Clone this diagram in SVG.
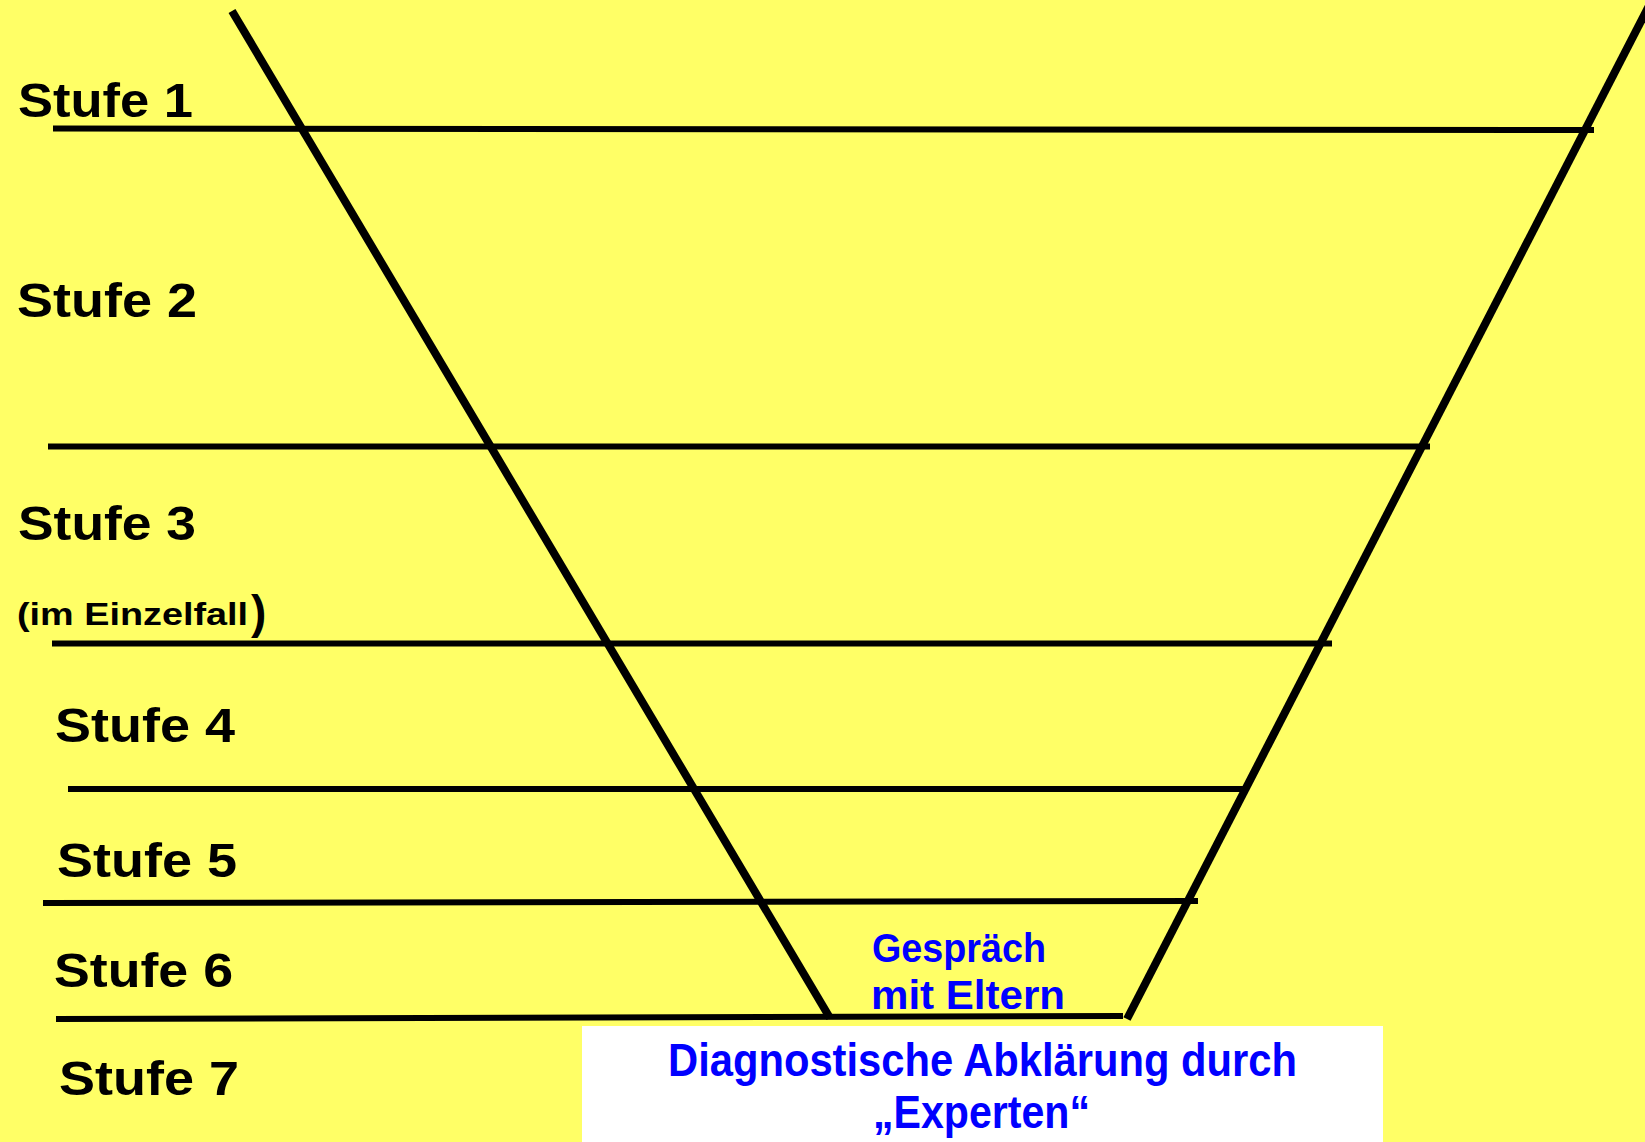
<svg xmlns="http://www.w3.org/2000/svg" width="1645" height="1142" viewBox="0 0 1645 1142">
  <style>
    .lvl { font-family: "Liberation Sans", "DejaVu Sans", sans-serif; font-weight: bold; font-size: 49px; fill: #000000; }
    .sub { font-family: "Liberation Sans", "DejaVu Sans", sans-serif; font-weight: bold; fill: #000000; }
    .blue { font-family: "Liberation Sans", "DejaVu Sans", sans-serif; font-weight: bold; fill: #0000FF; }
    .h { stroke: #000000; stroke-width: 6; fill: none; }
    .d { stroke: #000000; stroke-width: 8; fill: none; }
  </style>
  <rect id="background" x="0" y="0" width="1645" height="1142" fill="#FFFF66"/>

  <g id="funnel">
    <line class="d" x1="232" y1="11" x2="830" y2="1018"/>
    <line class="d" x1="1652" y1="0" x2="1127" y2="1019"/>
  </g>

  <g id="levels">
    <line class="h" x1="53" y1="128.5" x2="1594" y2="130"/>
    <line class="h" x1="48" y1="446.5" x2="1430" y2="446.5"/>
    <line class="h" x1="52" y1="643.5" x2="1332" y2="643.5"/>
    <line class="h" x1="68" y1="789" x2="1248" y2="789"/>
    <line class="h" x1="43" y1="903" x2="1198" y2="901"/>
    <line class="h" x1="56" y1="1019" x2="1123" y2="1016"/>
  </g>

  <g id="labels">
    <text class="lvl" x="18" y="117" textLength="175" lengthAdjust="spacingAndGlyphs">Stufe 1</text>
    <text class="lvl" x="17" y="317" textLength="180" lengthAdjust="spacingAndGlyphs">Stufe 2</text>
    <text class="lvl" x="18" y="540" textLength="178" lengthAdjust="spacingAndGlyphs">Stufe 3</text>
    <text class="sub" x="17" y="625" font-size="32" textLength="231" lengthAdjust="spacingAndGlyphs">(im Einzelfall</text>
    <text class="sub" x="251" y="628" font-size="46">)</text>
    <text class="lvl" x="55" y="742" textLength="180" lengthAdjust="spacingAndGlyphs">Stufe 4</text>
    <text class="lvl" x="57" y="877" textLength="180" lengthAdjust="spacingAndGlyphs">Stufe 5</text>
    <text class="lvl" x="54" y="987" textLength="179" lengthAdjust="spacingAndGlyphs">Stufe 6</text>
    <text class="lvl" x="59" y="1095" textLength="180" lengthAdjust="spacingAndGlyphs">Stufe 7</text>
  </g>

  <g id="gespraech">
    <text class="blue" font-size="41" x="872" y="962" textLength="174" lengthAdjust="spacingAndGlyphs">Gespräch</text>
    <text class="blue" font-size="41" x="871" y="1009" textLength="194" lengthAdjust="spacingAndGlyphs">mit Eltern</text>
  </g>

  <g id="experten">
    <rect x="582" y="1026" width="801" height="116" fill="#FFFFFF"/>
    <text class="blue" font-size="46" x="668" y="1076" textLength="629" lengthAdjust="spacingAndGlyphs">Diagnostische Abklärung durch</text>
    <text class="blue" font-size="46" x="873" y="1128" textLength="217" lengthAdjust="spacingAndGlyphs">„Experten“</text>
  </g>
</svg>
